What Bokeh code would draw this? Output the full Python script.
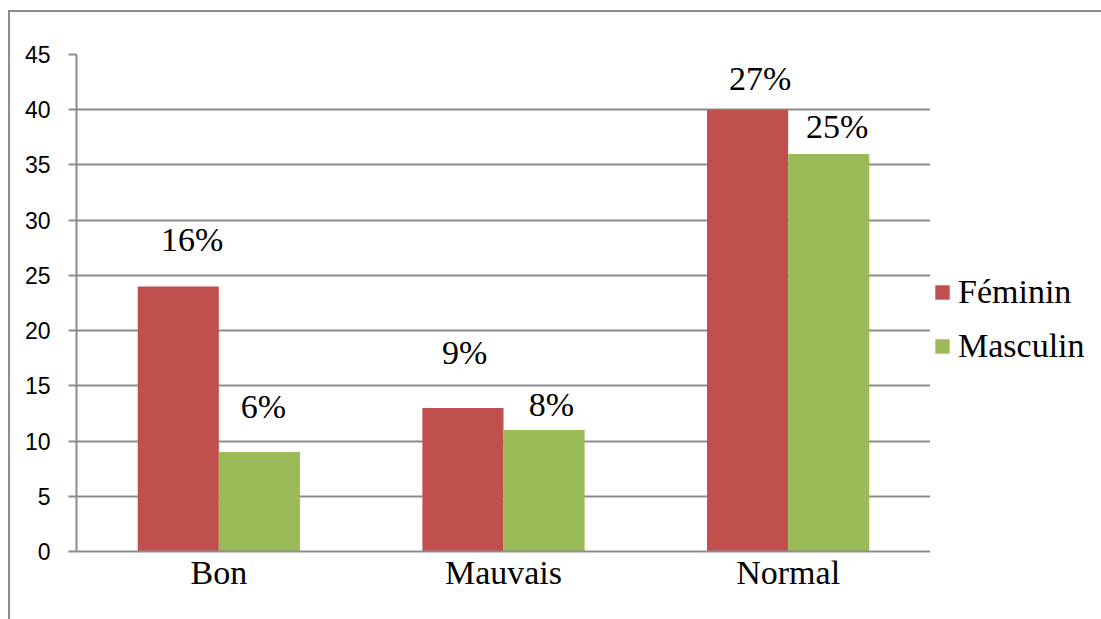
from bokeh.plotting import figure
from bokeh.layouts import row
from bokeh.core.properties import value
from bokeh.models import (ColumnDataSource, FactorRange, Range1d, LabelSet, Legend,
                          LegendItem, SingleIntervalTicker)
from bokeh.transform import dodge
from bokeh.embed import file_html
from bokeh.resources import INLINE

# Appréciation par sexe (effectifs) et part en pourcentage
categories = ["Bon", "Mauvais", "Normal"]
feminin = [24, 13, 40]
masculin = [9, 11, 36]
feminin_pct = ["16%", "9%", "27%"]
masculin_pct = ["6%", "8%", "25%"]
series = ["Féminin", "Masculin"]
y_ticks_step = 5
y_max = 45

# Hand-placed label nudges (pixels): horizontal shift and height above the bar top
fem_label_dx = [14, 1.7, 12.5]
fem_label_dy = [35, 44, 20]
masc_label_dx = [4, 7.3, 8.5]
masc_label_dy = [34.6, 14.5, 16]

RED = "#C0504D"
GREEN = "#9BBB59"
GRID = "#8c8c8c"
SERIF = "Liberation Serif"

source = ColumnDataSource(data=dict(
    cat=categories, fem=feminin, masc=masculin,
    fem_pct=feminin_pct, masc_pct=masculin_pct,
    fem_dx=fem_label_dx, fem_dy=fem_label_dy,
    masc_dx=masc_label_dx, masc_dy=masc_label_dy,
))

p = figure(width=930, height=619, output_backend="svg", toolbar_location=None,
           x_range=FactorRange(*categories, range_padding=0),
           y_range=Range1d(0, y_max),
           min_border_left=76, min_border_right=0,
           min_border_top=54, min_border_bottom=68)
p.outline_line_color = None
p.background_fill_color = "white"
p.border_fill_color = None

bar_w = 0.285
off = bar_w / 2
r_fem = p.vbar(x=dodge("cat", -off, range=p.x_range), top="fem", width=bar_w,
               source=source, fill_color=RED, line_color=None)
r_masc = p.vbar(x=dodge("cat", off, range=p.x_range), top="masc", width=bar_w,
                source=source, fill_color=GREEN, line_color=None)

for col, pct, dx, dy, sign in [("fem", "fem_pct", "fem_dx", "fem_dy", -1),
                               ("masc", "masc_pct", "masc_dx", "masc_dy", 1)]:
    p.add_layout(LabelSet(x=dodge("cat", sign * off, range=p.x_range), y=col, text=pct,
                          x_offset=dx, y_offset=dy, source=source,
                          text_font=value(SERIF), text_font_size="34px",
                          text_color="black",
                          text_align="center", text_baseline="alphabetic"))

# y axis
p.yaxis.ticker = SingleIntervalTicker(interval=y_ticks_step)
p.yaxis.axis_line_color = GRID
p.yaxis.axis_line_width = 2
p.yaxis.major_tick_line_color = GRID
p.yaxis.major_tick_line_width = 2
p.yaxis.major_tick_out = 8
p.yaxis.major_tick_in = 0
p.yaxis.minor_tick_line_color = None
p.yaxis.major_label_standoff = 18
p.yaxis.major_label_text_font = "Liberation Sans"
p.yaxis.major_label_text_font_size = "23px"
p.yaxis.major_label_text_color = "black"

# x axis
p.xaxis.axis_line_color = GRID
p.xaxis.axis_line_width = 2
p.xaxis.major_tick_line_color = None
p.xaxis.minor_tick_line_color = None
p.xaxis.major_tick_out = 0
p.xaxis.major_tick_in = 0
p.xaxis.major_label_standoff = 2
p.xaxis.major_label_text_font = SERIF
p.xaxis.major_label_text_font_size = "34px"
p.xaxis.major_label_text_color = "black"

p.xgrid.grid_line_color = None
p.ygrid.ticker = SingleIntervalTicker(interval=y_ticks_step)
p.ygrid.grid_line_color = GRID
p.ygrid.grid_line_width = 2

# legend panel to the right of the plot area; its swatch renderers sit outside the view
leg_fig = figure(width=171, height=619, output_backend="svg", toolbar_location=None,
                 x_axis_location=None, y_axis_location=None,
                 x_range=Range1d(0, 1), y_range=Range1d(0, 1),
                 min_border=0, min_border_left=0, min_border_right=0,
                 min_border_top=0, min_border_bottom=0)
leg_fig.outline_line_color = None
leg_fig.background_fill_color = None
leg_fig.border_fill_color = None
leg_fig.grid.grid_line_color = None
sw_fem = leg_fig.vbar(x=[-5], top=[0], width=0.1, fill_color=RED, line_color=None)
sw_masc = leg_fig.vbar(x=[-5], top=[0], width=0.1, fill_color=GREEN, line_color=None)

legend = Legend(items=[LegendItem(label=series[0], renderers=[sw_fem]),
                       LegendItem(label=series[1], renderers=[sw_masc])],
                location=(3, 186), orientation="vertical",
                glyph_width=18, glyph_height=18, label_standoff=7,
                spacing=16, padding=0, margin=0,
                label_text_font=SERIF, label_text_font_size="34px",
                label_text_color="black", label_text_baseline="middle",
                border_line_color=None, background_fill_alpha=0)
leg_fig.add_layout(legend, "center")

# chart-area frame line (top and left edges) behind both transparent canvases
frame_css = (f"linear-gradient({GRID},{GRID}) 9px 10px / 100% 2px no-repeat, "
             f"linear-gradient({GRID},{GRID}) 8px 10px / 2px 100% no-repeat, white")
layout = row(p, leg_fig, spacing=0, styles={"background": frame_css})

open("out.html", "w").write(file_html(layout, INLINE))
